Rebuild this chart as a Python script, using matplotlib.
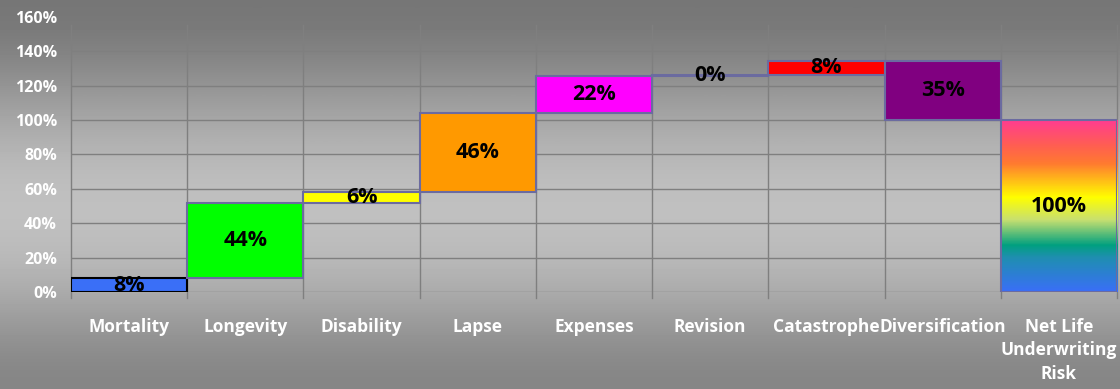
import numpy as np
import matplotlib
matplotlib.use("Agg")
import matplotlib.pyplot as plt
from matplotlib.colors import LinearSegmentedColormap

# datos del gráfico (cascada)
categorias = ["Mortality", "Longevity", "Disability", "Lapse", "Expenses",
              "Revision", "Catastrophe", "Diversification", "Net Life\nUnderwriting\nRisk"]
valores = [8.1, 43.6, 6.2, 46.1, 21.8, 0.4, 8.4, -34.6]
total = 100
colores = ["#3a6ff7", "#00ff00", "#ffff00", "#ff9900", "#ff00ff",
           "#ff00ff", "#ff0000", "#800080"]
ticks_y = [0, 20, 40, 60, 80, 100, 120, 140, 160]

fuente = "Open Sans"

fig = plt.figure(figsize=(11.2, 3.89), dpi=100)

# fondo gris con degradado vertical
fondo = fig.add_axes([0, 0, 1, 1], zorder=-1)
grad = np.array([0.46, 0.55, 0.66, 0.74, 0.76, 0.72, 0.62, 0.52]).reshape(-1, 1)
cmap_fondo = LinearSegmentedColormap.from_list("g", ["#000000", "#ffffff"])
fondo.imshow(grad, cmap=cmap_fondo, vmin=0, vmax=1, aspect="auto",
             extent=[0, 1, 0, 1], interpolation="bicubic")
fondo.set_axis_off()

ax = fig.add_axes([0.0634, 0.2494, 0.9339, 0.7069])
ax.patch.set_alpha(0)

x = np.arange(len(categorias))
base = 0
for i, v in enumerate(valores):
    abajo = base if v >= 0 else base + v
    borde = "black" if i == 0 else "#6b6ba0"
    ax.bar(x[i], abs(v), bottom=abajo, width=1.0, color=colores[i],
           edgecolor=borde, linewidth=1.5, zorder=3)
    ax.text(x[i], abajo + abs(v) / 2, f"{abs(v):.0f}%", ha="center", va="center",
            fontsize=15.5, fontweight="bold", family=fuente, zorder=5)
    base += v

# barra total con degradado arcoíris
arcoiris = LinearSegmentedColormap.from_list(
    "arco", [(0.0, "#3a6ff7"), (0.2, "#1f8fb0"), (0.27, "#00a080"),
             (0.42, "#c8e070"), (0.55, "#ffff00"), (0.75, "#ff7a30"),
             (0.85, "#ff6050"), (1.0, "#ff3d8f")])
xt = x[-1]
ax.imshow(np.linspace(0, 1, 200).reshape(-1, 1), cmap=arcoiris, aspect="auto",
          extent=[xt - 0.5, xt + 0.5, 0, total], origin="lower", zorder=3)
ax.bar(xt, total, width=1.0, color="none", edgecolor="#6b6ba0", linewidth=1.5, zorder=4)
ax.text(xt, total / 2, f"{total}%", ha="center", va="center",
        fontsize=15.5, fontweight="bold", family=fuente, zorder=5)

ax.set_xlim(-0.5, len(categorias) - 0.5)
ax.set_ylim(0, 160)
ax.set_yticks(ticks_y)
ax.set_yticklabels([f"{t}%" for t in ticks_y], color="white", fontsize=11.5,
                   fontweight="bold", family=fuente)
ax.set_xticks(x)
ax.set_xticklabels(categorias, color="white", fontsize=12.5, fontweight="bold",
                   family=fuente, va="top", linespacing=1.4)
ax.tick_params(axis="x", length=0, pad=18.5)
ax.tick_params(axis="y", length=0, pad=10)

# rejilla: horizontal en cada tick, vertical entre categorías
for t in ticks_y[1:-1]:
    ax.axhline(t, color="#7f7f7f", linewidth=1, zorder=1)
for b in np.arange(-0.5, len(categorias), 1.0):
    ax.plot([b, b], [-3.5, 155.5], color="#7f7f7f", linewidth=1, zorder=1, clip_on=False)
ax.axhline(0, color="#7f7f7f", linewidth=1, zorder=2)
for s in ax.spines.values():
    s.set_visible(False)

fig.savefig("out.png", dpi=100)
